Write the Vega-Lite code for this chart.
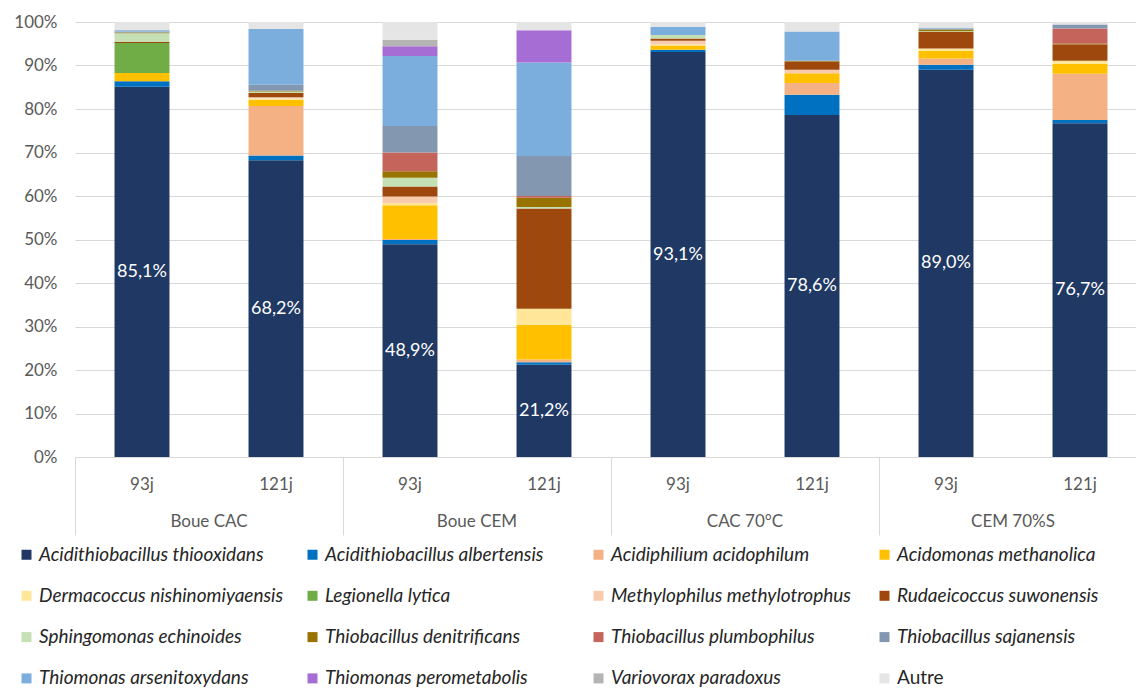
{
  "$schema": "https://vega.github.io/schema/vega-lite/v6.json",
  "width": 1061,
  "height": 435,
  "autosize": "none",
  "padding": {"left": 75, "top": 22, "right": 0, "bottom": 231},
  "background": "white",
  "config": {
    "view": {"stroke": null},
    "font": "Lato",
    "axis": {"labelFont": "Lato", "labelFontSize": 17, "labelColor": "#595959"},
    "locale": {"number": {"decimal": ",", "thousands": " ", "grouping": [3], "currency": ["", " €"]}}
  },
  "datasets": {
    "species": [
      {"s": "Acidithiobacillus thiooxidans", "i": 1},
      {"s": "Acidithiobacillus albertensis", "i": 2},
      {"s": "Acidiphilium acidophilum", "i": 3},
      {"s": "Acidomonas methanolica", "i": 4},
      {"s": "Dermacoccus nishinomiyaensis", "i": 5},
      {"s": "Legionella lytica", "i": 6},
      {"s": "Methylophilus methylotrophus", "i": 7},
      {"s": "Rudaeicoccus suwonensis", "i": 8},
      {"s": "Sphingomonas echinoides", "i": 9},
      {"s": "Thiobacillus denitrificans", "i": 10},
      {"s": "Thiobacillus plumbophilus", "i": 11},
      {"s": "Thiobacillus sajanensis", "i": 12},
      {"s": "Thiomonas arsenitoxydans", "i": 13},
      {"s": "Thiomonas perometabolis", "i": 14},
      {"s": "Variovorax paradoxus", "i": 15},
      {"s": "Autre", "i": 16}
    ],
    "groups": [{"g": "Boue CAC"}, {"g": "Boue CEM"}, {"g": "CAC 70°C"}, {"g": "CEM 70%S"}],
    "bars": [
      {"k": "Boue CAC|93j", "s": "Acidithiobacillus thiooxidans", "v": 0.851},
      {"k": "Boue CAC|93j", "s": "Acidithiobacillus albertensis", "v": 0.013},
      {"k": "Boue CAC|93j", "s": "Acidomonas methanolica", "v": 0.019},
      {"k": "Boue CAC|93j", "s": "Legionella lytica", "v": 0.069},
      {"k": "Boue CAC|93j", "s": "Rudaeicoccus suwonensis", "v": 0.002},
      {"k": "Boue CAC|93j", "s": "Sphingomonas echinoides", "v": 0.020},
      {"k": "Boue CAC|93j", "s": "Thiobacillus denitrificans", "v": 0.002},
      {"k": "Boue CAC|93j", "s": "Thiobacillus sajanensis", "v": 0.002},
      {"k": "Boue CAC|93j", "s": "Thiomonas arsenitoxydans", "v": 0.003},
      {"k": "Boue CAC|93j", "s": "Variovorax paradoxus", "v": 0.001},
      {"k": "Boue CAC|93j", "s": "Autre", "v": 0.018},

      {"k": "Boue CAC|121j", "s": "Acidithiobacillus thiooxidans", "v": 0.682},
      {"k": "Boue CAC|121j", "s": "Acidithiobacillus albertensis", "v": 0.011},
      {"k": "Boue CAC|121j", "s": "Acidiphilium acidophilum", "v": 0.114},
      {"k": "Boue CAC|121j", "s": "Acidomonas methanolica", "v": 0.014},
      {"k": "Boue CAC|121j", "s": "Dermacoccus nishinomiyaensis", "v": 0.003},
      {"k": "Boue CAC|121j", "s": "Methylophilus methylotrophus", "v": 0.003},
      {"k": "Boue CAC|121j", "s": "Rudaeicoccus suwonensis", "v": 0.010},
      {"k": "Boue CAC|121j", "s": "Sphingomonas echinoides", "v": 0.003},
      {"k": "Boue CAC|121j", "s": "Thiobacillus denitrificans", "v": 0.002},
      {"k": "Boue CAC|121j", "s": "Thiobacillus sajanensis", "v": 0.014},
      {"k": "Boue CAC|121j", "s": "Thiomonas arsenitoxydans", "v": 0.128},
      {"k": "Boue CAC|121j", "s": "Autre", "v": 0.016},

      {"k": "Boue CEM|93j", "s": "Acidithiobacillus thiooxidans", "v": 0.489},
      {"k": "Boue CEM|93j", "s": "Acidithiobacillus albertensis", "v": 0.010},
      {"k": "Boue CEM|93j", "s": "Acidiphilium acidophilum", "v": 0.002},
      {"k": "Boue CEM|93j", "s": "Acidomonas methanolica", "v": 0.078},
      {"k": "Boue CEM|93j", "s": "Dermacoccus nishinomiyaensis", "v": 0.005},
      {"k": "Boue CEM|93j", "s": "Methylophilus methylotrophus", "v": 0.015},
      {"k": "Boue CEM|93j", "s": "Rudaeicoccus suwonensis", "v": 0.023},
      {"k": "Boue CEM|93j", "s": "Sphingomonas echinoides", "v": 0.020},
      {"k": "Boue CEM|93j", "s": "Thiobacillus denitrificans", "v": 0.015},
      {"k": "Boue CEM|93j", "s": "Thiobacillus plumbophilus", "v": 0.043},
      {"k": "Boue CEM|93j", "s": "Thiobacillus sajanensis", "v": 0.061},
      {"k": "Boue CEM|93j", "s": "Thiomonas arsenitoxydans", "v": 0.161},
      {"k": "Boue CEM|93j", "s": "Thiomonas perometabolis", "v": 0.022},
      {"k": "Boue CEM|93j", "s": "Variovorax paradoxus", "v": 0.015},
      {"k": "Boue CEM|93j", "s": "Autre", "v": 0.041},

      {"k": "Boue CEM|121j", "s": "Acidithiobacillus thiooxidans", "v": 0.212},
      {"k": "Boue CEM|121j", "s": "Acidithiobacillus albertensis", "v": 0.006},
      {"k": "Boue CEM|121j", "s": "Acidiphilium acidophilum", "v": 0.006},
      {"k": "Boue CEM|121j", "s": "Acidomonas methanolica", "v": 0.080},
      {"k": "Boue CEM|121j", "s": "Dermacoccus nishinomiyaensis", "v": 0.037},
      {"k": "Boue CEM|121j", "s": "Rudaeicoccus suwonensis", "v": 0.230},
      {"k": "Boue CEM|121j", "s": "Sphingomonas echinoides", "v": 0.004},
      {"k": "Boue CEM|121j", "s": "Thiobacillus denitrificans", "v": 0.021},
      {"k": "Boue CEM|121j", "s": "Thiobacillus plumbophilus", "v": 0.004},
      {"k": "Boue CEM|121j", "s": "Thiobacillus sajanensis", "v": 0.092},
      {"k": "Boue CEM|121j", "s": "Thiomonas arsenitoxydans", "v": 0.215},
      {"k": "Boue CEM|121j", "s": "Thiomonas perometabolis", "v": 0.074},
      {"k": "Boue CEM|121j", "s": "Autre", "v": 0.019},

      {"k": "CAC 70°C|93j", "s": "Acidithiobacillus thiooxidans", "v": 0.931},
      {"k": "CAC 70°C|93j", "s": "Acidithiobacillus albertensis", "v": 0.005},
      {"k": "CAC 70°C|93j", "s": "Acidomonas methanolica", "v": 0.010},
      {"k": "CAC 70°C|93j", "s": "Dermacoccus nishinomiyaensis", "v": 0.002},
      {"k": "CAC 70°C|93j", "s": "Methylophilus methylotrophus", "v": 0.009},
      {"k": "CAC 70°C|93j", "s": "Rudaeicoccus suwonensis", "v": 0.005},
      {"k": "CAC 70°C|93j", "s": "Sphingomonas echinoides", "v": 0.008},
      {"k": "CAC 70°C|93j", "s": "Thiomonas arsenitoxydans", "v": 0.019},
      {"k": "CAC 70°C|93j", "s": "Autre", "v": 0.011},

      {"k": "CAC 70°C|121j", "s": "Acidithiobacillus thiooxidans", "v": 0.786},
      {"k": "CAC 70°C|121j", "s": "Acidithiobacillus albertensis", "v": 0.047},
      {"k": "CAC 70°C|121j", "s": "Acidiphilium acidophilum", "v": 0.027},
      {"k": "CAC 70°C|121j", "s": "Acidomonas methanolica", "v": 0.022},
      {"k": "CAC 70°C|121j", "s": "Methylophilus methylotrophus", "v": 0.008},
      {"k": "CAC 70°C|121j", "s": "Rudaeicoccus suwonensis", "v": 0.019},
      {"k": "CAC 70°C|121j", "s": "Thiobacillus denitrificans", "v": 0.002},
      {"k": "CAC 70°C|121j", "s": "Thiomonas arsenitoxydans", "v": 0.067},
      {"k": "CAC 70°C|121j", "s": "Autre", "v": 0.022},

      {"k": "CEM 70%S|93j", "s": "Acidithiobacillus thiooxidans", "v": 0.890},
      {"k": "CEM 70%S|93j", "s": "Acidithiobacillus albertensis", "v": 0.012},
      {"k": "CEM 70%S|93j", "s": "Acidiphilium acidophilum", "v": 0.014},
      {"k": "CEM 70%S|93j", "s": "Acidomonas methanolica", "v": 0.018},
      {"k": "CEM 70%S|93j", "s": "Dermacoccus nishinomiyaensis", "v": 0.005},
      {"k": "CEM 70%S|93j", "s": "Rudaeicoccus suwonensis", "v": 0.038},
      {"k": "CEM 70%S|93j", "s": "Sphingomonas echinoides", "v": 0.002},
      {"k": "CEM 70%S|93j", "s": "Thiobacillus denitrificans", "v": 0.004},
      {"k": "CEM 70%S|93j", "s": "Thiobacillus sajanensis", "v": 0.002},
      {"k": "CEM 70%S|93j", "s": "Thiomonas arsenitoxydans", "v": 0.002},
      {"k": "CEM 70%S|93j", "s": "Autre", "v": 0.013},

      {"k": "CEM 70%S|121j", "s": "Acidithiobacillus thiooxidans", "v": 0.767},
      {"k": "CEM 70%S|121j", "s": "Acidithiobacillus albertensis", "v": 0.008},
      {"k": "CEM 70%S|121j", "s": "Acidiphilium acidophilum", "v": 0.106},
      {"k": "CEM 70%S|121j", "s": "Acidomonas methanolica", "v": 0.023},
      {"k": "CEM 70%S|121j", "s": "Dermacoccus nishinomiyaensis", "v": 0.007},
      {"k": "CEM 70%S|121j", "s": "Rudaeicoccus suwonensis", "v": 0.037},
      {"k": "CEM 70%S|121j", "s": "Thiobacillus denitrificans", "v": 0.002},
      {"k": "CEM 70%S|121j", "s": "Thiobacillus plumbophilus", "v": 0.035},
      {"k": "CEM 70%S|121j", "s": "Thiobacillus sajanensis", "v": 0.009},
      {"k": "CEM 70%S|121j", "s": "Autre", "v": 0.006}
    ]
  },
  "layer": [
    {
      "data": {"name": "bars"},
      "transform": [
        {"lookup": "s", "from": {"data": {"name": "species"}, "key": "s", "fields": ["i"]}}
      ],
      "encoding": {
        "x": {
          "field": "k", "type": "nominal", "sort": null,
          "scale": {"type": "band", "range": [0, 1072], "paddingInner": 0.59, "paddingOuter": 0.295},
          "axis": {
            "title": null, "labelExpr": "split(datum.value, '|')[1]", "labelAngle": 0,
            "ticks": false, "domainColor": "#d9d9d9", "labelPadding": 19
          }
        },
        "y": {
          "field": "v", "type": "quantitative", "stack": "normalize",
          "scale": {"domain": [0, 1]},
          "axis": {
            "title": null, "format": ".0%", "values": [0, 0.1, 0.2, 0.3, 0.4, 0.5, 0.6, 0.7, 0.8, 0.9, 1],
            "grid": true, "gridColor": "#d9d9d9", "domain": false, "ticks": false, "labelPadding": 18
          }
        },
        "order": {"field": "i", "type": "quantitative", "sort": "ascending"}
      },
      "layer": [
        {
          "mark": {"type": "bar"},
          "encoding": {
            "color": {
              "field": "s", "type": "nominal",
              "scale": {
                "domain": ["Acidithiobacillus thiooxidans", "Acidithiobacillus albertensis", "Acidiphilium acidophilum", "Acidomonas methanolica", "Dermacoccus nishinomiyaensis", "Legionella lytica", "Methylophilus methylotrophus", "Rudaeicoccus suwonensis", "Sphingomonas echinoides", "Thiobacillus denitrificans", "Thiobacillus plumbophilus", "Thiobacillus sajanensis", "Thiomonas arsenitoxydans", "Thiomonas perometabolis", "Variovorax paradoxus", "Autre"],
                "range": ["#1F3864", "#0070C0", "#F4B183", "#FFC000", "#FFE699", "#70AD47", "#F8CBAD", "#9E480E", "#C5E0B4", "#997300", "#C5645A", "#8497B0", "#7CAEDD", "#A66DD4", "#B4B4B4", "#E5E5E5"]
              },
              "legend": {
                "title": null, "orient": "none", "legendX": -58, "legendY": 523,
                "direction": "horizontal", "columns": 4, "gridAlign": "all",
                "columnPadding": 19, "rowPadding": 21.3,
                "symbolType": "square", "symbolSize": 100, "symbolStrokeWidth": 0,
                "labelFont": "Lato", "labelFontSize": 19, "labelColor": "#262626",
                "labelOffset": 3, "labelLimit": 400,
                "encode": {"labels": {"update": {"fontStyle": {"signal": "datum.label === 'Autre' ? 'normal' : 'italic'"}}}}
              }
            }
          }
        },
        {
          "mark": {"type": "text", "color": "white", "font": "Lato", "fontSize": 18, "baseline": "middle"},
          "encoding": {
            "y": {"field": "v", "type": "quantitative", "stack": "normalize", "bandPosition": 0.5},
            "detail": {"field": "s", "type": "nominal"},
            "text": {
              "condition": {"test": "datum.s === 'Acidithiobacillus thiooxidans'", "field": "v", "type": "quantitative", "format": ".1%"},
              "value": ""
            }
          }
        }
      ]
    },
    {
      "data": {"name": "groups"},
      "mark": {"type": "point", "opacity": 0},
      "encoding": {
        "x": {
          "field": "g", "type": "nominal", "sort": null,
          "scale": {"type": "band", "range": [0, 1072], "paddingInner": 0, "paddingOuter": 0},
          "axis": {
            "orient": "bottom", "title": null, "bandPosition": 0, "tickSize": 78,
            "tickColor": "#d9d9d9", "domain": false, "grid": false, "labelAngle": 0,
            "labelPadding": -22
          }
        }
      }
    }
  ],
  "resolve": {"scale": {"x": "independent"}, "axis": {"x": "independent"}}
}
